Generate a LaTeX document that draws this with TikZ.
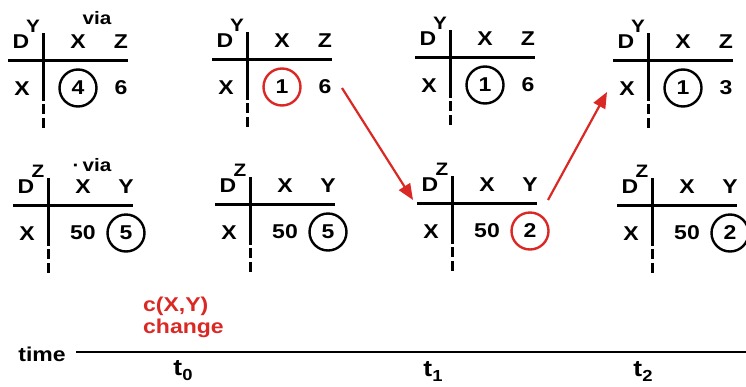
\documentclass[tikz,border=0pt]{standalone}
\usepackage{fontspec}
\setmainfont{Liberation Sans}[FakeStretch=1.15]
\usetikzlibrary{arrows.meta}
\definecolor{myred}{RGB}{218,40,36}
\tikzset{
  lbl/.style={font=\fontsize{20}{24}\selectfont\bfseries, inner sep=0pt},
  suplbl/.style={font=\fontsize{18}{20}\selectfont\bfseries, inner sep=0pt},
  tline/.style={line width=3pt},
  dline/.style={line width=3pt, dash pattern=on 10pt off 4pt},
  circ/.style={draw, circle, line width=2.4pt, minimum size=37pt, inner sep=0pt},
  redcirc/.style={circ, myred},
  redarrow/.style={draw=myred, line width=2.2pt, -{Triangle[length=16pt,width=13pt]}, myred},
  tick/.style={font=\fontsize{23}{26}\selectfont\bfseries, inner sep=0pt},
}
% #1 name, #2 vx, #3 hy, #4 superscript, #5 second header,
% #6 opts cell1, #7 text cell1, #8 opts cell2, #9 text cell2
\newcommand\dvtab[9]{%
  \begin{scope}[shift={(#2,#3)}]
    \coordinate (#1-o) at (0,0);
    \draw[tline] (-35,0) -- (85,0);
    \draw[tline] (0,-27) -- (0,41);
    \draw[dline] (0,44) -- (0,68);
    \node[lbl] (#1-d) at (-22,-18) {D};
    \node[suplbl] (#1-s) at (-10,-34) {#4};
    \node[lbl] (#1-h1) at (35,-18) {X};
    \node[lbl] (#1-h2) at (78,-18) {#5};
    \node[lbl] (#1-r) at (-21,29) {X};
    \node[lbl,#6] (#1-c1) at (35,28) {#7};
    \node[lbl,#8] (#1-c2) at (78,28) {#9};
  \end{scope}}
\begin{document}
\begin{tikzpicture}[x=1pt,y=-1pt]
\useasboundingbox (0,0) rectangle (746,386);
% top row
\dvtab{ta}{43}{60}{Y}{Z}{circ}{4}{}{6}
\dvtab{tb}{247}{59}{Y}{Z}{redcirc,text=black}{1}{}{6}
\dvtab{tc}{450}{57}{Y}{Z}{circ}{1}{}{6}
\dvtab{td}{648}{60}{Y}{Z}{circ}{1}{}{3}
% bottom row
\dvtab{ba}{48}{205}{Z}{Y}{}{50}{circ}{5}
\dvtab{bb}{250}{204}{Z}{Y}{}{50}{circ}{5}
\dvtab{bc}{452}{203}{Z}{Y}{}{50}{redcirc,text=black}{2}
\dvtab{bd}{652}{205}{Z}{Y}{}{50}{circ}{2}
% via labels
\node[suplbl] (via1) at (97,18) {via};
\node[suplbl] (via2) at (92,165) {·\,via};
% red arrows
\coordinate (a1s) at (342,88);
\coordinate (a1e) at (413,200);
\coordinate (a2s) at (548,200);
\coordinate (a2e) at (607,92);
\draw[redarrow] (a1s) -- (a1e);
\draw[redarrow] (a2s) -- (a2e);
% timeline
\node[lbl] (time) at (42,354) {time};
\coordinate (tls) at (76,352);
\coordinate (tle) at (746,352);
\draw[line width=2.6pt] (tls) -- (tle);
\node[lbl, text=myred, align=left, anchor=north west, font=\fontsize{20}{22}\selectfont\bfseries] (chg) at (143,297) {c(X,Y)\\change};
\node[tick] (t0) at (183,371) {t\raisebox{-5pt}{\fontsize{16}{16}\selectfont 0}};
\node[tick] (t1) at (433,371) {t\raisebox{-5pt}{\fontsize{16}{16}\selectfont 1}};
\node[tick] (t2) at (643,371) {t\raisebox{-5pt}{\fontsize{16}{16}\selectfont 2}};
\end{tikzpicture}
\end{document}
